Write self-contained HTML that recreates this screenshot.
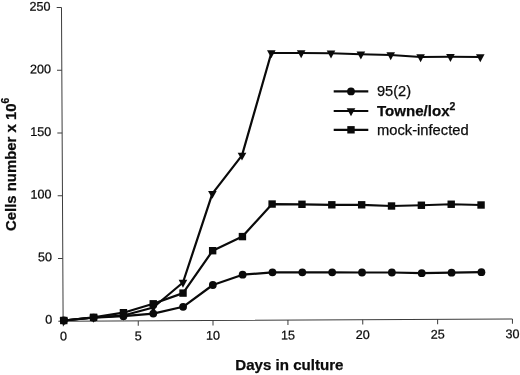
<!DOCTYPE html>
<html><head><meta charset="utf-8"><title>Growth curve</title>
<style>
html,body{margin:0;padding:0;background:#fff;}
body{width:520px;height:375px;overflow:hidden;}
svg{display:block;}
text{font-family:"Liberation Sans",Arial,Helvetica,sans-serif;fill:#0c0c0c;stroke:#0c0c0c;stroke-width:0.25px;}
.t{font-size:12.6px;}
.b{font-weight:bold;}
</style></head><body>
<svg width="520" height="375" viewBox="0 0 520 375">
<rect width="520" height="375" fill="#fff"/>
<g transform="rotate(-0.3 288 164)">
<g stroke="#3c3c3c" stroke-width="1" fill="none">

<path d="M62.3,6.2V320.1H511.6"/>
<path d="M57.5,320.1H62.3"/>
<path d="M57.5,257.3H62.3"/>
<path d="M57.5,194.6H62.3"/>
<path d="M57.5,131.8H62.3"/>
<path d="M57.5,69.0H62.3"/>
<path d="M57.5,6.2H62.3"/>
<path d="M62.5,320.1V325.0"/>
<path d="M137.4,320.1V325.0"/>
<path d="M212.2,320.1V325.0"/>
<path d="M287.1,320.1V325.0"/>
<path d="M361.9,320.1V325.0"/>
<path d="M436.8,320.1V325.0"/>
<path d="M511.6,320.1V325.0"/>
</g>
<g class="t" text-anchor="end">
<text x="51.4" y="322.6">0</text>
<text x="51.4" y="260.0">50</text>
<text x="51.4" y="197.3">100</text>
<text x="51.4" y="134.7">150</text>
<text x="51.4" y="72.1">200</text>
<text x="51.4" y="9.4">250</text>
</g><g class="t" text-anchor="middle">
<text x="62.5" y="339.4">0</text>
<text x="137.4" y="339.4">5</text>
<text x="212.2" y="339.4">10</text>
<text x="287.1" y="339.4">15</text>
<text x="361.9" y="339.4">20</text>
<text x="436.8" y="339.4">25</text>
<text x="511.6" y="339.4">30</text>
</g></g>
<polyline points="63.77,320.5 93.61,317.7 123.45,316.2 153.28,313.6 183.1,306.8 212.83,285 242.63,274.7 272.47,272.3 302.32,272.3 332.17,272.3 362.02,272.5 391.87,272.5 421.72,273.2 451.57,272.7 481.42,272.2" fill="none" stroke="#0a0a0a" stroke-width="2.2" stroke-linejoin="round"/>
<g fill="#0a0a0a"><circle cx="63.77" cy="320.5" r="3.9"/><circle cx="93.61" cy="317.7" r="3.9"/><circle cx="123.45" cy="316.2" r="3.9"/><circle cx="153.28" cy="313.6" r="3.9"/><circle cx="183.1" cy="306.8" r="3.9"/><circle cx="212.83" cy="285" r="3.9"/><circle cx="242.63" cy="274.7" r="3.9"/><circle cx="272.47" cy="272.3" r="3.9"/><circle cx="302.32" cy="272.3" r="3.9"/><circle cx="332.17" cy="272.3" r="3.9"/><circle cx="362.02" cy="272.5" r="3.9"/><circle cx="391.87" cy="272.5" r="3.9"/><circle cx="421.72" cy="273.2" r="3.9"/><circle cx="451.57" cy="272.7" r="3.9"/><circle cx="481.42" cy="272.2" r="3.9"/></g>
<polyline points="63.77,320.5 93.6,317.5 123.44,315.5 153.25,307.5 182.97,282.5 212.36,193.6 242.0,155.4 271.32,53 301.17,53 331.02,53.25 360.87,54.25 390.73,55 420.59,57 450.44,56.75 480.29,57" fill="none" stroke="#0a0a0a" stroke-width="2.2" stroke-linejoin="round"/>
<g fill="#0a0a0a"><path d="M59.47,317.80H68.07L63.77,325.70Z"/><path d="M89.30,314.80H97.90L93.6,322.70Z"/><path d="M119.14,312.80H127.74L123.44,320.70Z"/><path d="M148.95,304.80H157.55L153.25,312.70Z"/><path d="M178.67,279.80H187.27L182.97,287.70Z"/><path d="M208.06,190.90H216.66L212.36,198.80Z"/><path d="M237.70,152.70H246.30L242.0,160.60Z"/><path d="M267.02,50.30H275.62L271.32,58.20Z"/><path d="M296.87,50.30H305.47L301.17,58.20Z"/><path d="M326.72,50.55H335.32L331.02,58.45Z"/><path d="M356.57,51.55H365.17L360.87,59.45Z"/><path d="M386.43,52.30H395.03L390.73,60.20Z"/><path d="M416.29,54.30H424.89L420.59,62.20Z"/><path d="M446.14,54.05H454.74L450.44,61.95Z"/><path d="M475.99,54.30H484.59L480.29,62.20Z"/></g>
<polyline points="63.77,320.5 93.6,317.3 123.43,312.7 153.23,303.8 183.03,293.1 212.65,250.7 242.43,236.6 272.11,204.05 301.96,204.3 331.81,204.8 361.66,204.8 391.52,206 421.37,205.25 451.21,204.25 481.06,205" fill="none" stroke="#0a0a0a" stroke-width="2.2" stroke-linejoin="round"/>
<g fill="#0a0a0a"><rect x="60.07" y="316.80" width="7.4" height="7.4"/><rect x="89.90" y="313.60" width="7.4" height="7.4"/><rect x="119.73" y="309.00" width="7.4" height="7.4"/><rect x="149.53" y="300.10" width="7.4" height="7.4"/><rect x="179.33" y="289.40" width="7.4" height="7.4"/><rect x="208.95" y="247.00" width="7.4" height="7.4"/><rect x="238.73" y="232.90" width="7.4" height="7.4"/><rect x="268.41" y="200.35" width="7.4" height="7.4"/><rect x="298.26" y="200.60" width="7.4" height="7.4"/><rect x="328.11" y="201.10" width="7.4" height="7.4"/><rect x="357.96" y="201.10" width="7.4" height="7.4"/><rect x="387.82" y="202.30" width="7.4" height="7.4"/><rect x="417.67" y="201.55" width="7.4" height="7.4"/><rect x="447.51" y="200.55" width="7.4" height="7.4"/><rect x="477.36" y="201.30" width="7.4" height="7.4"/></g>
<g stroke="#0a0a0a" stroke-width="2.2"><path d="M333.7,91.4H368.3"/><path d="M333.7,111H368.3"/><path d="M333.7,129.8H368.3"/></g>
<g fill="#0a0a0a"><circle cx="351" cy="91.4" r="3.9"/><path d="M346.70,108.30H355.30L351,116.20Z"/><rect x="347.30" y="126.10" width="7.4" height="7.4"/></g>
<text x="377" y="96.2" font-size="14.6">95(2)</text>
<text x="377" y="116" font-size="14.8" class="b"><tspan textLength="72.6" lengthAdjust="spacingAndGlyphs">Towne/lox</tspan><tspan font-size="10.5" dy="-5.8">2</tspan></text>
<text x="377" y="135" font-size="14.6" textLength="91.6" lengthAdjust="spacingAndGlyphs">mock-infected</text>
<text x="235.3" y="369.7" font-size="14.6" class="b" textLength="108.2" lengthAdjust="spacingAndGlyphs">Days in culture</text>
<text transform="translate(16.4,231) rotate(-90)" font-size="14.6" class="b"><tspan textLength="127.5" lengthAdjust="spacingAndGlyphs">Cells number x 10</tspan><tspan font-size="10.3" dy="-7">6</tspan></text>
</svg></body></html>
